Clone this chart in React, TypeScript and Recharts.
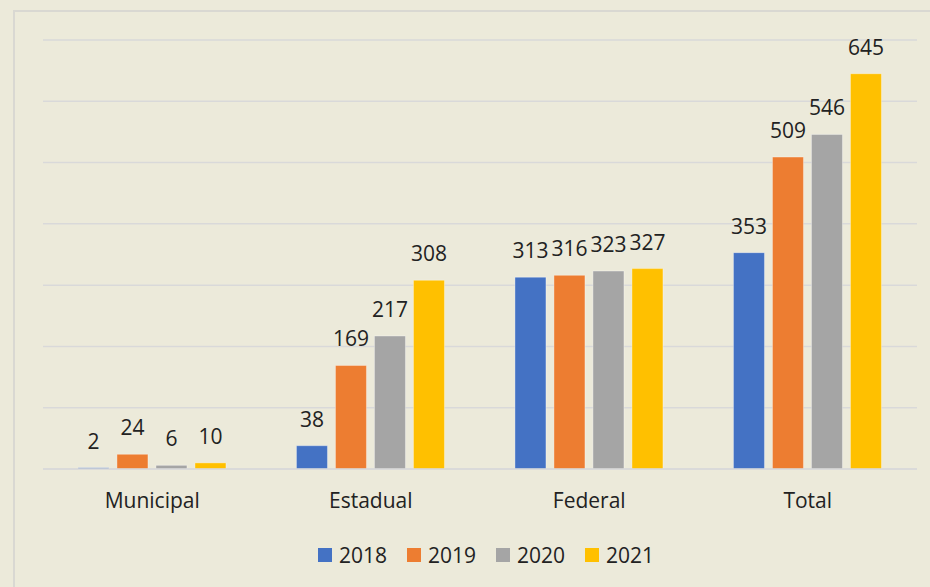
import { Bar, BarChart, CartesianGrid, LabelList, Legend, XAxis, YAxis } from "recharts";

const categories = ["Municipal", "Estadual", "Federal", "Total"];
const years = ["2018", "2019", "2020", "2021"];
const values2018 = [2, 38, 313, 353];
const values2019 = [24, 169, 316, 509];
const values2020 = [6, 217, 323, 546];
const values2021 = [10, 308, 327, 645];
const yTicks = [0, 100, 200, 300, 400, 500, 600, 700];
const colors = ["#4472C4", "#ED7D31", "#A5A5A5", "#FFC000"];

const series = [values2018, values2019, values2020, values2021];

const data = categories.map((name, i) => {
  const row: Record<string, string | number> = { name };
  years.forEach((y, j) => {
    row[y] = series[j][i];
  });
  return row;
});

const font = "'Open Sans', 'Noto Sans', sans-serif";

function LegendBox() {
  return (
    <div
      style={{
        height: 30,
        display: "flex",
        justifyContent: "center",
        alignItems: "center",
        gap: 20,
        paddingLeft: 12,
        fontFamily: font,
        fontSize: 21,
        color: "#222",
      }}
    >
      {years.map((y, i) => (
        <div key={y} style={{ display: "flex", alignItems: "center", gap: 7 }}>
          <span style={{ width: 14, height: 14, background: colors[i], display: "inline-block" }} />
          <span>{y}</span>
        </div>
      ))}
    </div>
  );
}

export default function App() {
  return (
    <div style={{ position: "fixed", left: 0, top: 0, width: 930, height: 587, background: "#ECEADA", overflow: "hidden" }}>
      <div
        style={{
          position: "absolute",
          left: 13,
          top: 10,
          width: 940,
          height: 600,
          borderLeft: "2px solid #D9D8D2",
          borderTop: "2px solid #D9D8D2",
        }}
      />
      <div style={{ position: "absolute", left: 0, top: 0 }}>
        <BarChart
          width={930}
          height={587}
          data={data}
          margin={{ top: 40, right: 13, left: 43, bottom: 17 }}
          barCategoryGap="16%"
          barGap={8}
        >
          <CartesianGrid vertical={false} stroke="#D9D9D9" strokeWidth={1.5} />
          <YAxis hide domain={[0, 700]} ticks={yTicks} />
          <XAxis
            dataKey="name"
            height={71}
            axisLine={{ stroke: "#D9D9D9", strokeWidth: 1.5 }}
            tickLine={false}
            tickMargin={18}
            tick={{ fill: "#222", fontSize: 21, fontFamily: font }}
          />
          <Legend verticalAlign="bottom" content={() => <LegendBox />} />
          {years.map((y, i) => (
            <Bar
              key={y}
              dataKey={y}
              fill={colors[i]}
              stroke="rgba(255,255,255,0.35)"
              strokeWidth={1}
              isAnimationActive={false}
            >
              <LabelList
                dataKey={y}
                position="top"
                offset={19}
                style={{ fill: "#222", fontSize: 21, fontFamily: font }}
              />
            </Bar>
          ))}
        </BarChart>
      </div>
    </div>
  );
}
